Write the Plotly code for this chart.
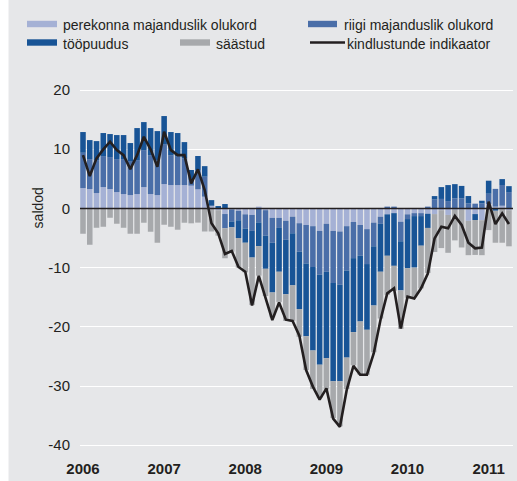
import plotly.graph_objects as go

# ---------------- data ----------------
months = list(range(64))  # Jan 2006 .. Apr 2011
year_ticks = [0, 12, 24, 36, 48, 60]
year_labels = ["2006", "2007", "2008", "2009", "2010", "2011"]
y_ticks = [-40, -30, -20, -10, 0, 10, 20]
y_tick_labels = ["-40", "-30", "-20", "-10", "0", "10", "20"]

perekonna = [3.43, 3.27, 2.59, 3.6, 3.27, 2.76, 2.42, 2.25, 2.42, 3.6, 2.42, 2.25, 4.11, 3.94, 3.94, 3.94,
             3.84, 3.22, 1.98, 0.45, -0.3, -0.95, -0.2, -0.4, -1.0, -1.1, 0.3, -0.3, -1.6, -1.6, -2.1, -1.4,
             -2.5, -2.8, -3.0, -3.8, -2.6, -3.8, -3.9, -3.0, -2.3, -2.8, -3.5, -2.4, -1.4, -1.0, -0.8, -2.25,
             -1.0, -0.8, -0.8, -0.9, -0.96, -0.3, -1.1, -0.2, -0.2, -2.1, -0.96, -2.0, 0.73, 0.3, 0.45, -0.3]

riigi = [5.97, 5.06, 5.57, 5.24, 5.4, 5.57, 5.91, 5.75, 5.74, 6.25, 6.58, 5.91, 6.76, 5.06, 4.9, 4.5,
         0.96, 3.27, 3.38, 0.0, 0.0, -2.4, -2.0, -1.6, -2.4, -2.7, -2.36, -4.3, -4.2, -1.7, -3.2, -2.8,
         -4.8, -6.5, -6.9, -7.4, -8.1, -8.8, -9.0, -7.5, -6.1, -5.2, -5.9, -4.0, -1.2, 0.3, 0.3, -3.3,
         -0.8, -0.5, -0.5, 0.3, 1.52, 1.6, 1.24, 1.7, 1.7, 0.85, 0.8, 0.85, 1.75, 3.0, 3.5, 2.76]

toopuudus = [3.5, 3.21, 3.21, 3.89, 3.89, 4.06, 4.06, 3.04, 5.41, 4.73, 4.57, 4.9, 4.73, 3.9, 3.89, 2.76,
             1.69, 2.36, 1.78, 0.95, 0.4, 0.74, -1.0, -3.0, -2.4, -4.5, -4.0, -5.6, -8.4, -7.4, -9.2, -8.8,
             -9.7, -12.3, -14.1, -15.2, -14.6, -16.6, -16.3, -14.7, -12.5, -11.1, -11.1, -10.0, -8.1, -7.0, -8.9, -8.3,
             -8.3, -8.7, -5.0, -2.4, 0.56, 2.0, 2.7, 2.4, 2.1, 1.24, -1.0, 0.45, 2.2, -0.4, 1.0, 1.0]

saastud = [-4.28, -6.14, -3.27, -3.1, -1.58, -2.59, -3.27, -4.28, -4.28, -2.42, -3.94, -5.8, -2.76, -3.1, -3.6, -2.42,
           -2.52, -2.4, -3.9, -3.9, -4.3, -5.07, -4.1, -5.0, -5.0, -8.0, -5.0, -4.6, -4.2, -5.1, -4.5, -6.0,
           -4.7, -5.7, -6.5, -5.6, -5.3, -6.2, -7.6, -5.3, -5.6, -9.0, -7.6, -7.9, -7.9, -6.6, -4.2, -6.5,
           -5.0, -5.0, -7.2, -7.6, -6.4, -6.4, -6.4, -5.2, -6.4, -5.8, -5.9, -5.9, -3.66, -5.4, -5.8, -6.1]

indikaator = [9.0, 5.46, 8.45, 9.97, 11.26, 9.85, 9.0, 6.64, 9.0, 12.1, 9.97, 7.04, 12.95, 9.85, 9.0, 9.0,
              4.23, 6.6, 3.1, -2.52, -4.2, -7.7, -7.2, -9.9, -10.7, -16.4, -11.4, -15.3, -18.85, -15.9, -18.8, -19.0,
              -21.5, -27.3, -30.1, -32.3, -30.4, -35.5, -36.9, -30.7, -26.6, -28.1, -28.1, -24.5, -18.85, -14.35, -13.5, -20.3,
              -14.9, -15.2, -13.5, -11.0, -5.07, -3.1, -3.37, -1.28, -2.8, -5.8, -6.75, -6.6, 1.14, -2.64, -0.83, -2.64]

series_names = ["perekonna majanduslik olukord", "riigi majanduslik olukord", "tööpuudus", "säästud"]
line_name = "kindlustunde indikaator"

# ---------------- style ----------------
C_LIGHT = "#a5b1d5"
C_MED = "#4a6ea8"
C_DARK = "#185496"
C_GRAY = "#a7a9ac"
C_LINE = "#231f20"
BG = "#e6e7e9"
TXT = "#231f20"
FONT = "Liberation Sans, Arial, sans-serif"

W, H = 517, 481
L, R, T, B = 80, 4, 80, 23
PW, PH = W - L - R, H - T - B


def px_x(px):
    return (px - L) / PW


def px_y(py):
    return (H - B - py) / PH


fig = go.Figure()
for vals, name, col in zip([perekonna, riigi, toopuudus, saastud], series_names,
                           [C_LIGHT, C_MED, C_DARK, C_GRAY]):
    fig.add_trace(go.Bar(x=months, y=vals, name=name, marker=dict(color=col, line=dict(width=0)),
                         showlegend=False))

fig.add_trace(go.Scatter(x=months, y=indikaator, name=line_name, mode="lines",
                         line=dict(color=C_LINE, width=2.6), showlegend=False))

shapes = []
# white strip on the far left
shapes.append(dict(type="rect", xref="paper", yref="paper", x0=px_x(-2), x1=px_x(8.5), y0=px_y(H + 5), y1=px_y(-5),
                   fillcolor="white", line=dict(width=0), layer="below"))
# zero line
shapes.append(dict(type="line", xref="paper", yref="y", x0=0, x1=1, y0=0, y1=0,
                   line=dict(color=C_LINE, width=1.5), layer="above"))

annotations = []
# legend
legend_items = [
    ("rect", C_LIGHT, 27, 57, 24.0, series_names[0], 61),
    ("rect", C_MED, 308, 337, 24.0, series_names[1], 342),
    ("rect", C_DARK, 27, 57, 42.5, series_names[2], 61),
    ("rect", C_GRAY, 180, 210, 42.5, series_names[3], 214),
    ("line", C_LINE, 310, 345, 42.5, line_name, 345),
]
for kind, col, x0, x1, yc, label, tx in legend_items:
    if kind == "rect":
        shapes.append(dict(type="rect", xref="paper", yref="paper", x0=px_x(x0), x1=px_x(x1),
                           y0=px_y(yc + 3.2), y1=px_y(yc - 3.2), fillcolor=col, line=dict(width=0)))
    else:
        shapes.append(dict(type="line", xref="paper", yref="paper", x0=px_x(x0), x1=px_x(x1),
                           y0=px_y(yc), y1=px_y(yc), line=dict(color=col, width=2.4)))
    annotations.append(dict(xref="paper", yref="paper", x=px_x(tx), y=px_y(yc + 1.2), text=label,
                            showarrow=False, xanchor="left", yanchor="middle",
                            font=dict(family=FONT, size=14, color=TXT)))

# y-axis title
annotations.append(dict(xref="paper", yref="y", x=px_x(38), y=0, text="saldod", textangle=-90,
                        showarrow=False, xanchor="center", yanchor="middle",
                        font=dict(family=FONT, size=14, color=TXT)))

fig.update_layout(
    width=W, height=H,
    margin=dict(l=L, r=R, t=T, b=B, pad=0),
    paper_bgcolor=BG, plot_bgcolor=BG,
    barmode="relative", bargap=0.18,
    font=dict(family=FONT, color=TXT),
    shapes=shapes, annotations=annotations,
    xaxis=dict(range=[-0.444, 63.6], tickmode="array", tickvals=year_ticks, ticktext=year_labels,
               showgrid=False, zeroline=False, showline=False, ticks="",
               tickfont=dict(family=FONT, size=15, color=TXT, weight="bold")),
    yaxis=dict(range=[-42.16, 21.69], tickmode="array", tickvals=y_ticks, ticktext=y_tick_labels,
               showgrid=True, gridcolor="white", gridwidth=1.3, zeroline=False, showline=False,
               ticks="", ticklabelstandoff=9,
               tickfont=dict(family=FONT, size=15, color=TXT)),
)

fig.write_html("out.html", config={"displayModeBar": False},
               post_script="document.body.style.margin='0px';")
